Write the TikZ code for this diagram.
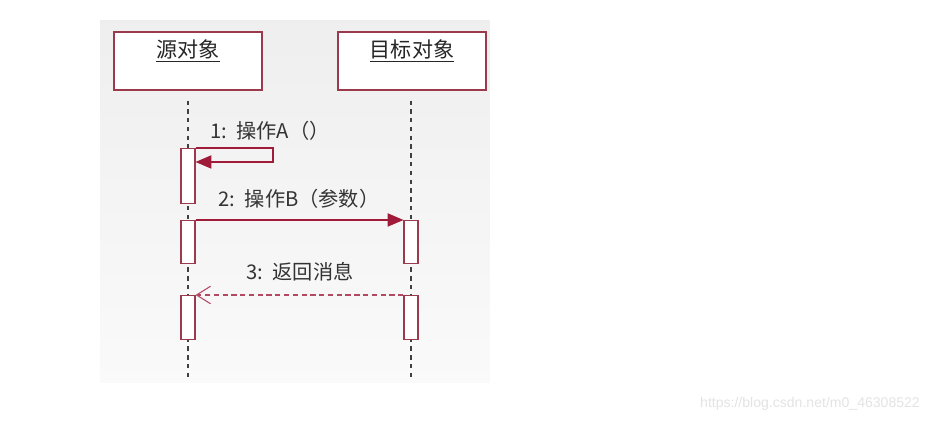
\documentclass[tikz,border=0pt]{standalone}
\usepackage{fontspec}
\setmainfont{Noto Sans CJK SC}
\newfontfamily\wmfont{Liberation Sans}
\usepackage{xcolor}
\usetikzlibrary{arrows.meta,positioning,calc}
\definecolor{boxred}{HTML}{9A3A4C}
\definecolor{arrowred}{HTML}{A01A3A}

\begin{document}
\begin{tikzpicture}[
    x=0.02cm, y=-0.02cm,
    panel/.style={rectangle, draw=none, top color=gray!13, bottom color=gray!4, minimum width=7.8cm, minimum height=7.26cm},
    obj/.style={rectangle, draw=boxred, fill=white, line width=0.6pt, minimum width=2.96cm, minimum height=1.16cm},
    title/.style={font=\fontsize{12}{14}\selectfont, text=black!85, inner sep=1pt},
    act/.style={rectangle, draw=boxred, fill=white, line width=0.6pt, minimum width=0.28cm, inner sep=0pt},
    life/.style={draw=black!75, line width=0.6pt, dash pattern=on 2.5pt off 2.5pt},
    msg/.style={-{Triangle[length=9pt,width=7.5pt]}, draw=arrowred, line width=0.7pt},
    reply/.style={-{Straight Barb[length=8pt,width=10pt]}, draw=arrowred!80, line width=0.6pt, dash pattern=on 3pt off 2pt},
    lbl/.style={font=\fontsize{11.5}{13}\selectfont, text=black!80, inner sep=1pt}
]
\useasboundingbox (0,0) rectangle (931,421);

% Background panel
\node[panel] (panel) at (295,201.5) {};

% Objects
\node[obj] (src) at (188,61) {};
\node[obj] (dst) at (412,61) {};
\node[title] (srcname) at (188,51) {\underline{源对象}};
\node[title] (dstname) at (412,51) {\underline{目标对象}};

% Lifelines
\coordinate (srcend) at (188,378);
\coordinate (dstend) at (411,378);
\draw[life, shorten <=0.2cm] (src) -- (srcend);
\draw[life, shorten <=0.2cm] (dst.south -| dstend) -- (dstend);

% Activation bars
\node[act, minimum height=1.1cm, anchor=north] (sa1) at (188,148) {};
\node[act, minimum height=0.86cm, anchor=north] (sa2) at (188,220) {};
\node[act, minimum height=0.88cm, anchor=north] (sa3) at (188,295) {};
\node[act, minimum height=0.86cm, anchor=north] (da1) at (411,220) {};
\node[act, minimum height=0.88cm, anchor=north] (da2) at (411,295) {};

% Messages
\coordinate (selfturn) at (273,162);
\draw[msg] (sa1.north east) -| (selfturn) -- (sa1.east |- selfturn);
\draw[msg] (sa2.north east) -- (da1.north west);
\draw[reply] (da2.north west) -- (sa3.north east);

\node[lbl] (m1) at (270,131) {1:\, 操作A（）};
\node[lbl] (m2) at (299,199) {2:\, 操作B（参数）};
\node[lbl] (m3) at (300,272) {3:\, 返回消息};

% Watermark
\node[font=\wmfont\fontsize{8}{9}\selectfont, text=gray!22] (wm) at (810,404) {https://blog.csdn.net/m0\_46308522};

\end{tikzpicture}
\end{document}
